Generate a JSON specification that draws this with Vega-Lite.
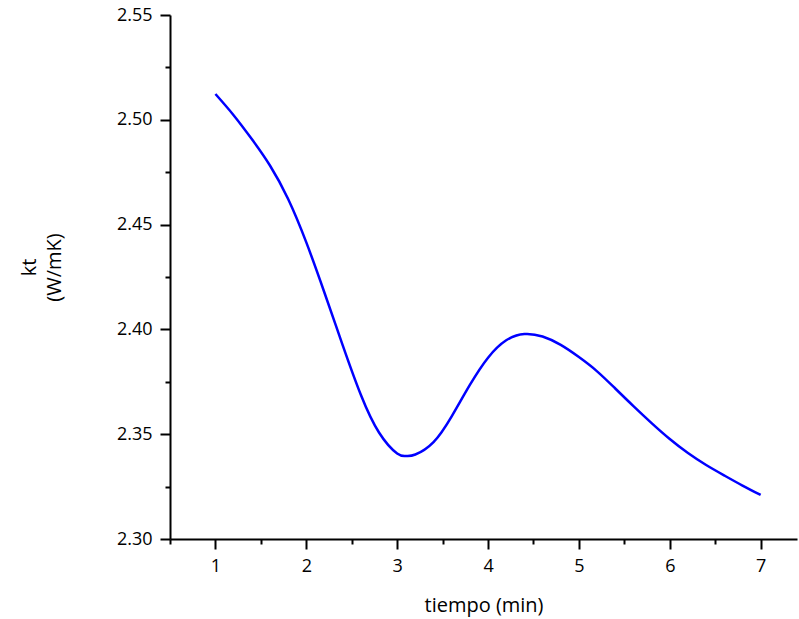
{
  "$schema": "https://vega.github.io/schema/vega-lite/v6.json",
  "autosize": "none",
  "width": 627,
  "height": 524,
  "padding": {"left": 170, "top": 15, "right": 2, "bottom": 80},
  "background": "white",
  "config": {
    "view": {"stroke": null},
    "axis": {
      "grid": false,
      "domainColor": "black",
      "domainWidth": 2,
      "tickColor": "black",
      "tickWidth": 2,
      "labelFont": "Open Sans",
      "labelColor": "black",
      "titleFont": "Open Sans",
      "titleFontWeight": "normal",
      "titleColor": "black"
    }
  },
  "data": {
    "values": [
      {"t": 1.0, "kt": 2.5123},
      {"t": 1.2, "kt": 2.5022},
      {"t": 1.4, "kt": 2.4908},
      {"t": 1.6, "kt": 2.4782},
      {"t": 1.8, "kt": 2.4622},
      {"t": 2.0, "kt": 2.4415},
      {"t": 2.2, "kt": 2.4175},
      {"t": 2.4, "kt": 2.3925},
      {"t": 2.6, "kt": 2.3688},
      {"t": 2.8, "kt": 2.3508},
      {"t": 3.0, "kt": 2.3408},
      {"t": 3.1, "kt": 2.3396},
      {"t": 3.2, "kt": 2.3403},
      {"t": 3.4, "kt": 2.3462},
      {"t": 3.6, "kt": 2.3585},
      {"t": 3.8, "kt": 2.3735},
      {"t": 4.0, "kt": 2.3865},
      {"t": 4.2, "kt": 2.3948},
      {"t": 4.4, "kt": 2.3978},
      {"t": 4.6, "kt": 2.3966},
      {"t": 4.8, "kt": 2.3926},
      {"t": 5.0, "kt": 2.3868},
      {"t": 5.2, "kt": 2.38},
      {"t": 5.4, "kt": 2.3718},
      {"t": 5.6, "kt": 2.3634},
      {"t": 5.8, "kt": 2.3553},
      {"t": 6.0, "kt": 2.3477},
      {"t": 6.2, "kt": 2.341},
      {"t": 6.4, "kt": 2.3353},
      {"t": 6.6, "kt": 2.3303},
      {"t": 6.8, "kt": 2.3255},
      {"t": 7.0, "kt": 2.321}
    ]
  },
  "resolve": {"axis": {"x": "independent", "y": "independent"}},
  "layer": [
    {
      "mark": {"type": "line", "color": "#0000FF", "strokeWidth": 2.5, "interpolate": "natural"},
      "encoding": {
        "x": {
          "field": "t", "type": "quantitative",
          "scale": {"domain": [0.5, 7.4], "nice": false, "zero": false},
          "axis": {"orient": "bottom", "title": "tiempo (min)", "values": [1, 2, 3, 4, 5, 6, 7], "tickSize": 10, "labelPadding": 8, "titlePadding": 20, "labelFontSize": 18, "titleFontSize": 20}
        },
        "y": {
          "field": "kt", "type": "quantitative",
          "scale": {"domain": [2.30, 2.55], "nice": false, "zero": false},
          "axis": {"orient": "left", "title": ["kt", "(W/mK)"], "values": [2.30, 2.35, 2.40, 2.45, 2.50, 2.55], "format": ".2f", "tickSize": 10, "labelPadding": 8, "titlePadding": 52, "labelFontSize": 18, "titleFontSize": 20, "titleLineHeight": 25, "titleY": 252}
        }
      }
    },
    {
      "mark": {"type": "line", "opacity": 0},
      "encoding": {
        "x": {
          "field": "t", "type": "quantitative",
          "axis": {"orient": "bottom", "values": [0.5, 1.5, 2.5, 3.5, 4.5, 5.5, 6.5], "labels": false, "domain": false, "tickSize": 5, "title": null}
        },
        "y": {
          "field": "kt", "type": "quantitative",
          "axis": {"orient": "left", "values": [2.325, 2.375, 2.425, 2.475, 2.525], "labels": false, "domain": false, "tickSize": 5, "title": null}
        }
      }
    }
  ]
}
